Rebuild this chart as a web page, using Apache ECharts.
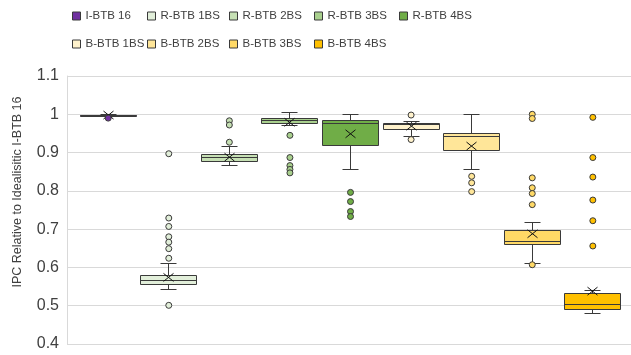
<!DOCTYPE html>
<html>
<head>
<meta charset="utf-8">
<script src="https://cdn.jsdelivr.net/npm/echarts@6/dist/echarts.min.js"></script>
<style>
  html, body { margin: 0; padding: 0; background: #fff; }
  #chart { width: 631px; height: 355px; }
</style>
</head>
<body>
<div id="chart"></div>
<script>
// Configurations compared in the plot
const groups = ['I-BTB 16', 'R-BTB 1BS', 'R-BTB 2BS', 'R-BTB 3BS', 'R-BTB 4BS',
                'B-BTB 1BS', 'B-BTB 2BS', 'B-BTB 3BS', 'B-BTB 4BS'];

// Box statistics per configuration: [min, q1, median, q3, max]
const boxStats = [
  [0.995, 0.996, 0.997, 0.998, 1.000],
  [0.543, 0.556, 0.565, 0.580, 0.609],
  [0.866, 0.877, 0.886, 0.896, 0.915],
  [0.970, 0.977, 0.983, 0.990, 1.004],
  [0.855, 0.918, 0.975, 0.985, 1.000],
  [0.941, 0.960, 0.973, 0.977, 0.980],
  [0.855, 0.905, 0.943, 0.950, 1.000],
  [0.610, 0.661, 0.668, 0.696, 0.718],
  [0.479, 0.489, 0.503, 0.531, 0.541]
];

// Mean value per configuration (drawn as an x marker)
const means = [0.998, 0.574, 0.888, 0.979, 0.949, 0.969, 0.917, 0.688, 0.538];

// Outlier points per configuration
const outliers = [
  [0.990],
  [0.897, 0.729, 0.707, 0.680, 0.666, 0.649, 0.624, 0.501],
  [0.983, 0.972, 0.927],
  [0.945, 0.887, 0.866, 0.856, 0.847],
  [0.796, 0.772, 0.746, 0.733],
  [0.998, 0.934],
  [0.838, 0.821, 0.798],
  [1.000, 0.989, 0.834, 0.808, 0.793, 0.764, 0.607],
  [0.992, 0.887, 0.836, 0.776, 0.722, 0.656]
];

// Y axis tick labels, bottom to top
const yTickLabels = ['0.4', '0.5', '0.6', '0.7', '0.8', '0.9', '1', '1.1'];

// Styling
const palette = ['#7030A0', '#E2EFDA', '#C6E0B4', '#A9D08E', '#70AD47',
                 '#FFF2CC', '#FFE699', '#FFD966', '#FFC000'];
const edge = '#3A3A3A';
const textColor = '#404040';
const BOX_W = 56;
const CAP_W = 16;
const legendSpots = [
  [72, 10], [147, 10], [229, 10], [314, 10], [399, 10],
  [72, 38], [147, 38], [229, 38], [314, 38]
];

const crisp = v => Math.round(v - 0.5) + 0.5;

function renderBox(params, api) {
  const idx = api.value(0);
  const cx = crisp(api.coord([idx, 0])[0]);
  const yMin = crisp(api.coord([idx, api.value(1)])[1]);
  const yQ1 = crisp(api.coord([idx, api.value(2)])[1]);
  const yMed = crisp(api.coord([idx, api.value(3)])[1]);
  const yQ3 = crisp(api.coord([idx, api.value(4)])[1]);
  const yMax = crisp(api.coord([idx, api.value(5)])[1]);
  const yMean = api.coord([idx, api.value(6)])[1];
  const fill = palette[params.seriesIndex];
  const line = { stroke: edge, lineWidth: 1 };
  const hb = BOX_W / 2, hc = CAP_W / 2;
  return {
    type: 'group',
    children: [
      { type: 'line', shape: { x1: cx, y1: yMax, x2: cx, y2: yQ3 }, style: line },
      { type: 'line', shape: { x1: cx, y1: yQ1, x2: cx, y2: yMin }, style: line },
      { type: 'line', shape: { x1: cx - hc, y1: yMax, x2: cx + hc, y2: yMax }, style: line },
      { type: 'line', shape: { x1: cx - hc, y1: yMin, x2: cx + hc, y2: yMin }, style: line },
      { type: 'rect', shape: { x: cx - hb, y: yQ3, width: BOX_W, height: Math.max(yQ1 - yQ3, 1) },
        style: { fill: fill, stroke: edge, lineWidth: 1 } },
      { type: 'line', shape: { x1: cx - hb, y1: yMed, x2: cx + hb, y2: yMed }, style: line },
      { type: 'line', shape: { x1: cx - 5, y1: yMean - 4, x2: cx + 5, y2: yMean + 4 }, style: { stroke: '#111', lineWidth: 1 } },
      { type: 'line', shape: { x1: cx - 5, y1: yMean + 4, x2: cx + 5, y2: yMean - 4 }, style: { stroke: '#111', lineWidth: 1 } }
    ]
  };
}

const series = [];
groups.forEach((name, i) => {
  series.push({
    name: name,
    type: 'custom',
    renderItem: renderBox,
    itemStyle: { color: palette[i] },
    encode: { x: 0, y: [1, 2, 3, 4, 5] },
    data: [[i].concat(boxStats[i], [means[i]])],
    z: 2
  });
});
groups.forEach((name, i) => {
  series.push({
    name: name,
    type: 'scatter',
    symbol: 'circle',
    symbolSize: 6,
    itemStyle: { color: palette[i], borderColor: edge, borderWidth: 1, opacity: 1 },
    data: outliers[i].map(v => [i, v]),
    z: 3,
    silent: true
  });
});

const legends = groups.map((name, i) => ({
  left: legendSpots[i][0],
  top: legendSpots[i][1],
  padding: 0,
  itemWidth: 8,
  itemHeight: 8,
  itemGap: 0,
  selectedMode: false,
  textStyle: { fontFamily: 'Liberation Sans', fontSize: 11.5, color: textColor },
  data: [{
    name: name,
    icon: 'rect',
    itemStyle: { color: palette[i], borderColor: edge, borderWidth: 1 }
  }]
}));

const chart = echarts.init(document.getElementById('chart'), null, { renderer: 'canvas' });
chart.setOption({
  animation: false,
  backgroundColor: '#ffffff',
  legend: legends,
  grid: { left: 67, right: 0, top: 76, bottom: 11, containLabel: false },
  xAxis: {
    type: 'value',
    min: -0.68,
    max: 8.63,
    show: false,
    splitLine: { show: false }
  },
  yAxis: {
    type: 'value',
    min: 0.4,
    max: 1.1,
    interval: 0.1,
    name: 'IPC Relative to Idealisitic I-BTB 16',
    nameLocation: 'middle',
    nameGap: 43,
    nameTextStyle: { fontFamily: 'Liberation Sans', fontSize: 12.5, color: textColor, padding: [0, 0, 0, 36] },
    axisLine: { show: true, onZero: false, lineStyle: { color: '#D9D9D9', width: 1 } },
    axisTick: { show: false },
    splitLine: { show: true, lineStyle: { color: '#D9D9D9', width: 1 } },
    axisLabel: {
      fontFamily: 'Liberation Sans',
      fontSize: 16,
      color: textColor,
      margin: 8,
      formatter: v => yTickLabels[Math.round((v - 0.4) * 10)]
    }
  },
  series: series
});
</script>
</body>
</html>
